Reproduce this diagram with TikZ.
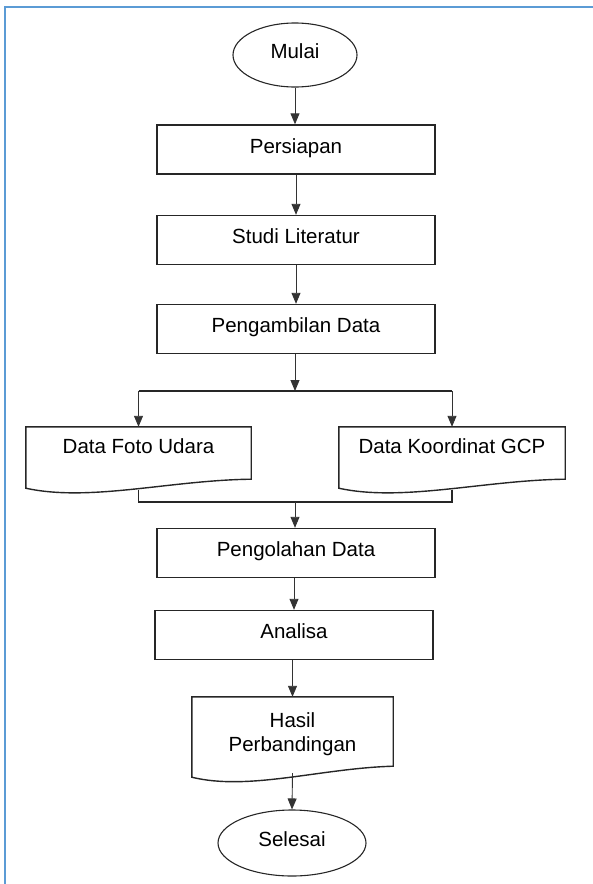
\documentclass[tikz,border=0pt]{standalone}
\usepackage{fontspec}
\setmainfont{Liberation Sans}
\usetikzlibrary{shapes.geometric,arrows.meta,calc}
\definecolor{framecol}{HTML}{5B9BD5}
\begin{document}
\begin{tikzpicture}[x=1pt,y=-1pt,
  every node/.style={font=\fontsize{20.5}{24}\selectfont},
  procbox/.style={draw=black!85,line width=1.4pt,minimum width=278pt,minimum height=49pt,inner sep=0pt,text height=15pt,text depth=8pt},
  term/.style={draw=black!85,line width=1.1pt,ellipse,inner sep=0pt,text height=15pt,text depth=8pt},
  docshape/.style={inner sep=0pt},
  doctext/.style={align=center,inner sep=0pt,anchor=base},
  flow/.style={draw=black!80,line width=0.9pt,-{Triangle[width=9pt,length=11pt]}},
  link/.style={draw=black!85,line width=1.4pt},
  joint/.style={draw=black!85,line width=1.2pt},
  frameline/.style={draw=framecol,line width=2pt}]
\useasboundingbox (0,0) rectangle (593,884);
% frame
\coordinate (fa) at (593,7);
\coordinate (fb) at (5,7);
\coordinate (fc) at (5,884);
\draw[frameline] (fa) -- (fb) -- (fc);

% nodes
\node[term,minimum width=124pt,minimum height=64pt] (mulai) at (295,55) {Mulai};
\node[procbox] (persiapan) at (296,149.5) {Persiapan};
\node[procbox] (studi) at (296,240) {Studi Literatur};
\node[procbox] (ambil) at (296,329) {Pengambilan Data};

\node[docshape,minimum width=225pt,minimum height=61pt] (foto) at (138.5,457.5) {};
\node[docshape,minimum width=226pt,minimum height=61pt] (gcp) at (452,457.5) {};
\node[doctext] (fotot) at (138.5,453.5) {Data Foto Udara};
\node[doctext] (gcpt) at (452,453.5) {Data Koordinat GCP};

\node[procbox] (olah) at (296,553) {Pengolahan Data};
\node[procbox] (analisa) at (294,635) {Analisa};

\node[docshape,minimum width=201pt,minimum height=80pt] (hasil) at (292.5,737) {};
\node[doctext] (hasilt) at (292.5,751.5) {Hasil\\Perbandingan};

\node[term,minimum width=148pt,minimum height=66pt] (selesai) at (292,843) {Selesai};

% document shapes
\draw[link] (foto.south west) -- (foto.north west) -- (foto.north east) -- ($(foto.south east)+(0,-9)$)
  .. controls ($(foto.south west)+(144,-8)$) and ($(foto.south west)+(64,14)$) .. (foto.south west) -- cycle;
\draw[link] (gcp.south west) -- (gcp.north west) -- (gcp.north east) -- ($(gcp.south east)+(0,-9)$)
  .. controls ($(gcp.south west)+(145,-8)$) and ($(gcp.south west)+(64,14)$) .. (gcp.south west) -- cycle;
\draw[link] (hasil.south west) -- (hasil.north west) -- (hasil.north east) -- ($(hasil.south east)+(0,-11)$)
  .. controls ($(hasil.south west)+(129,-9)$) and ($(hasil.south west)+(57,14)$) .. (hasil.south west) -- cycle;

% connectors
\coordinate (split) at (295,391);
\coordinate (splitl) at (138.5,391);
\coordinate (splitr) at (452,391);
\coordinate (mergel) at (138.5,502);
\coordinate (merger) at (452,502);
\coordinate (merge) at (295,502);

\draw[flow] (mulai.south) -- (mulai.south |- persiapan.north);
\draw[flow] (persiapan.south) -- (studi.north);
\draw[flow] (studi.south) -- (ambil.north);
\draw[flow] (ambil.south -| split) -- (split);
\draw[joint] (splitl) -- (splitr);
\draw[flow] (splitl) -- (foto.north);
\draw[flow] (splitr) -- (gcp.north);
\draw[joint] ($(foto.south)+(0,1.5)$) -- (mergel) -- (merger) -- ($(gcp.south)+(0,1.5)$);
\draw[flow] (merge) -- (merge |- olah.north);
\draw[flow] (olah.south -| analisa.north) -- (analisa.north);
\draw[flow] (analisa.south -| hasil.north) -- (hasil.north);
\draw[flow] ($(hasil.south)+(0,-4)$) -- (selesai.north);
\end{tikzpicture}
\end{document}
